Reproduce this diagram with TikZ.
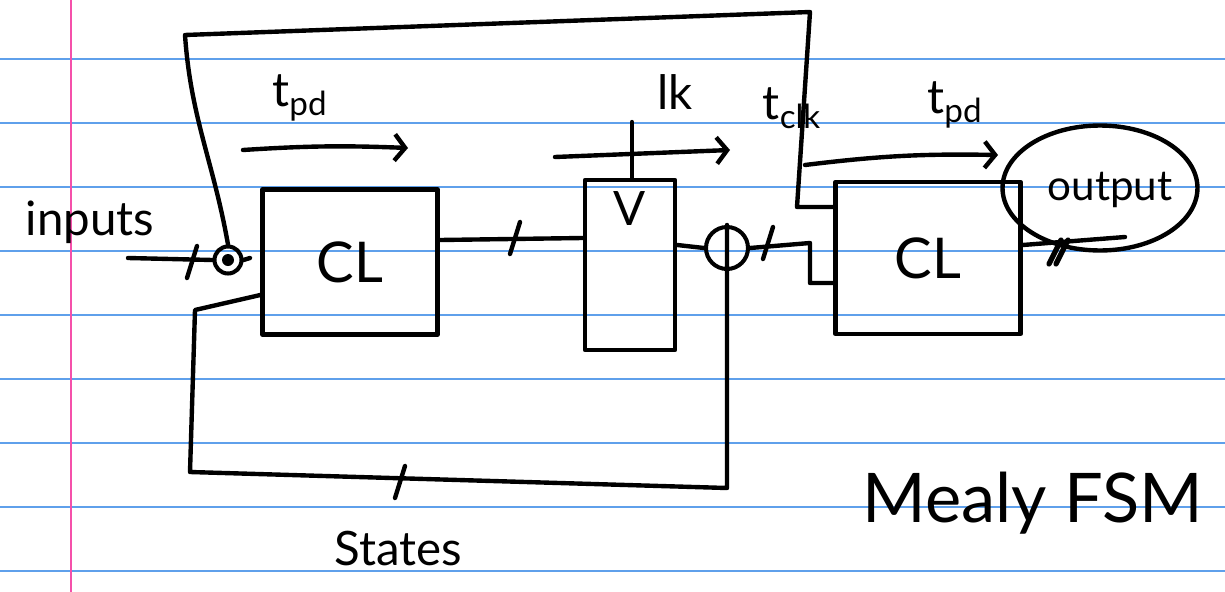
\documentclass[tikz,border=0pt]{standalone}
\usepackage{fontspec}
\setmainfont{Lato}
\usetikzlibrary{arrows.meta,shapes.geometric}

\colorlet{inkcolor}{black}
\definecolor{rulecolor}{RGB}{95,160,235}
\definecolor{margincolor}{RGB}{245,80,170}

\begin{document}
\begin{tikzpicture}
  [x=0.02cm,y=-0.02cm,line cap=round,line join=round,
   % Styles
   paper rule/.style={rulecolor,line width=1.1pt},
   margin rule/.style={margincolor,line width=1.3pt},
   wire/.style={inkcolor,line width=2.5pt},
   delay arrow/.style={wire,-{Straight Barb[length=6pt,width=15pt]}},
   block/.style={draw=inkcolor,line width=2.5pt,rectangle,inner sep=0pt,
     font=\fontsize{32}{34}\selectfont},
   junction/.style={draw=inkcolor,line width=2.3pt,circle,inner sep=0pt},
   hand text/.style={inkcolor,font=\fontsize{27}{30}\selectfont}]

  \useasboundingbox (0,0) rectangle (1225,592);
  \fill[white] (0,0) rectangle (1225,592);

  % Lined paper
  \foreach \y in {59,123,...,571}
    \draw[paper rule] (0,\y) -- (1225,\y);
  \draw[margin rule] (71,0) -- (71,592);

  % Blocks
  \node[block,minimum width=3.5cm,minimum height=2.9cm] (cl1) at (350,262) {CL};
  \node[block,minimum width=1.8cm,minimum height=3.4cm] (reg) at (630,265) {};
  \node[hand text,below=4pt] (vmark) at (reg.north) {V};
  \node[block,minimum width=3.7cm,minimum height=3.04cm] (cl2) at (928,258) {CL};
  \node[draw=inkcolor,line width=2.5pt,ellipse,minimum width=3.9cm,minimum height=2.5cm]
    (output) at (1100,188) {};
  \node[hand text,font=\fontsize{24}{26}\selectfont] (outtext) at (1110,190) {output};

  % Junctions
  \node[junction,minimum size=0.54cm] (jin) at (228,260) {};
  \fill[inkcolor] (jin.center) circle [radius=6];
  \node[junction,minimum size=0.84cm] (jst) at (727,248) {};

  % Texts
  \node[hand text] (inputs) at (90,222) {inputs};
  \node[hand text] (tpdone) at (300,98) {t\textsubscript{pd}};
  \node[hand text] (clk) at (675,92) {lk};
  \node[hand text] (tclk) at (792,108) {t\textsubscript{clk}};
  \node[hand text] (tpdtwo) at (955,105) {t\textsubscript{pd}};
  \node[hand text] (states) at (398,548) {States};
  \node[inkcolor,font=\fontsize{39}{42}\selectfont] (title) at (1033,503) {Mealy FSM};

  % Wires
  \coordinate (in) at (128,258);
  \coordinate (out) at (1125,237);
  \coordinate (clkin) at (632,122);
  \draw[wire] (in) -- (jin.west);
  \draw[wire] (jin.east) -- (250,258);
  \draw[wire] (jin.north) to[out=100,in=-86] (185,35) -- (810,12)
    -- (797,207) -- (cl2.west |- 0,207);
  \draw[wire] ([yshift=0.44cm]cl1.east) -- (reg.west |- 0,238);
  \draw[wire] (clkin) -- (clkin |- reg.north);
  \draw[wire] (reg.east |- 0,245) -- (jst.west);
  \draw[wire] (jst.east) -- (810,243) -- (810,283) -- (cl2.west |- 0,283);
  \draw[wire] (jst.north) -- (jst.center |- 0,488) -- (190,472)
    -- (195,310) -- (cl1.west |- 0,295);
  \draw[wire] ([yshift=0.26cm]cl2.east) -- (out);

  % Bus ticks
  \foreach \tx/\ty in {192/262, 515/238, 768/243, 400/482}
    \draw[wire] (\tx,\ty) ++(-5,16) -- ++(10,-32);
  \foreach \tx in {1055,1062}
    \draw[wire,line width=3pt] (\tx,252) ++(-6,12) -- ++(12,-24);

  % Delays
  \draw[delay arrow] (243,150) to[bend left=3] (408,148);
  \draw[delay arrow] (555,157) -- (730,150);
  \draw[delay arrow] (805,165) to[bend left=4] (998,155);
\end{tikzpicture}
\end{document}
